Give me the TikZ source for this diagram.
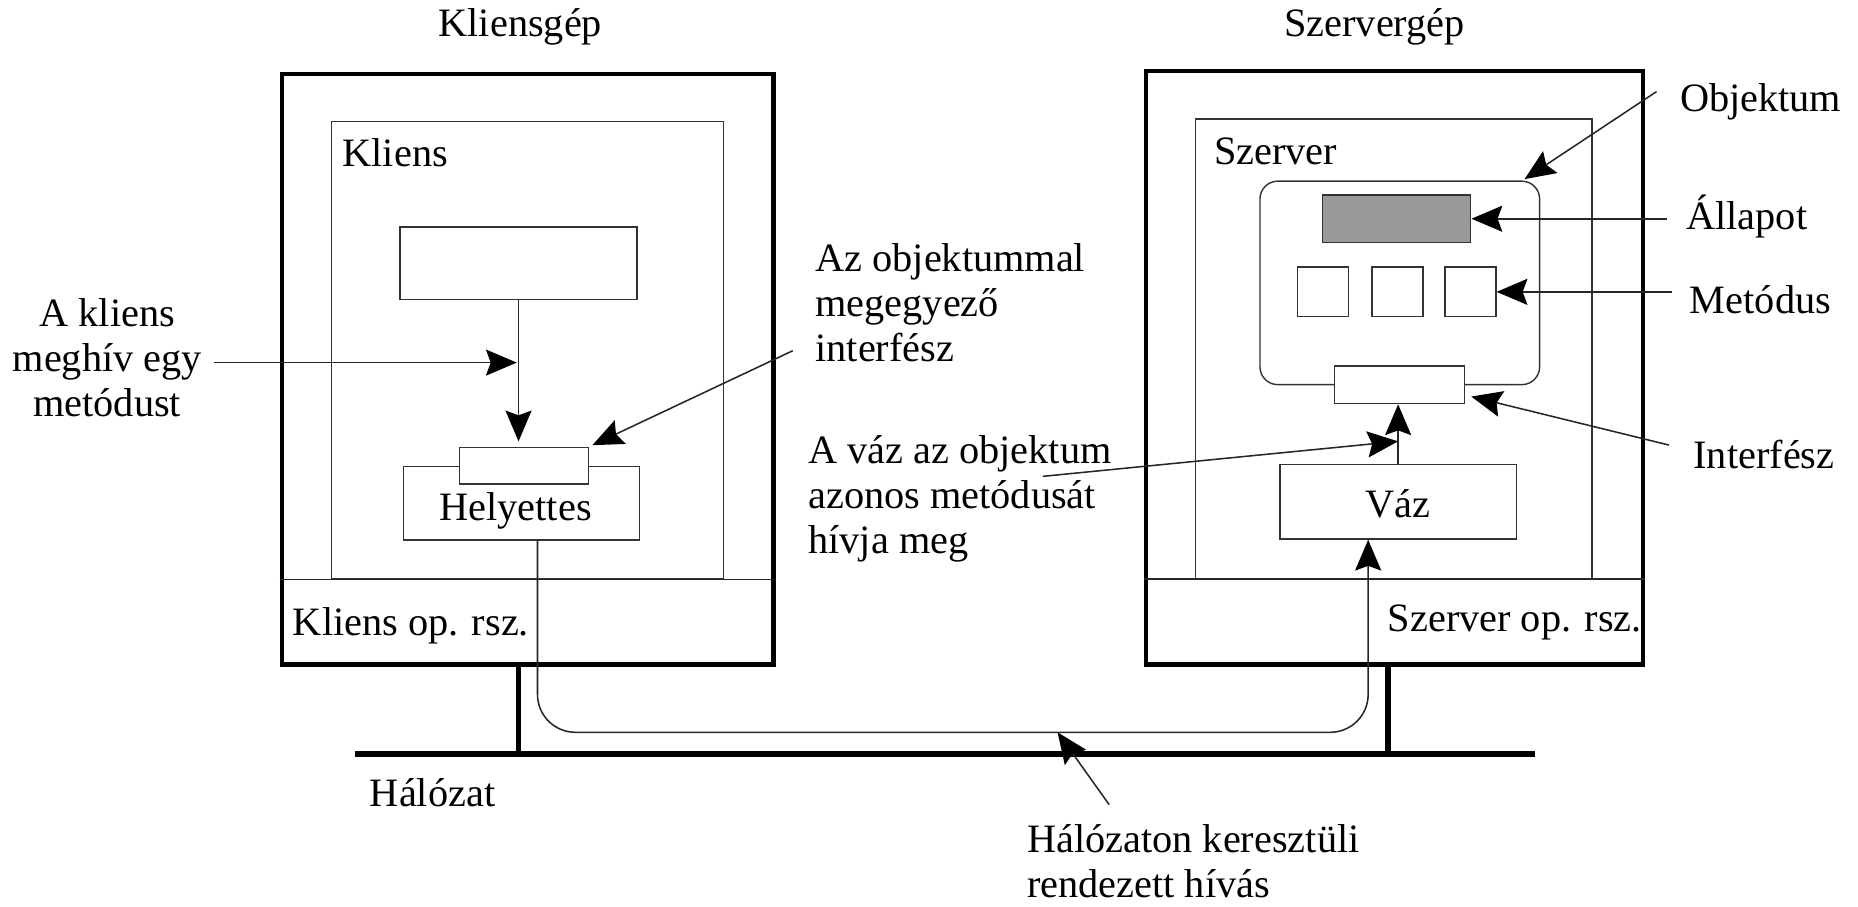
\documentclass[tikz,border=0pt]{standalone}
\usepackage{fontspec}
\setmainfont{Liberation Serif}
\usetikzlibrary{arrows.meta,calc}
\begin{document}
\begin{tikzpicture}[x=1pt,y=-1pt,
  every node/.style={font=\fontsize{34pt}{38pt}\selectfont, inner sep=0pt},
  machine/.style={draw=black, line width=3.5pt, anchor=north west},
  proc/.style={draw=black!80, line width=1.2pt, anchor=north west},
  part/.style={draw=black!80, line width=1.2pt, fill=white, anchor=north west},
  conn/.style={draw=black!85, line width=1.3pt},
  arr/.style={-{Stealth[length=26pt,width=22pt,inset=4pt,color=black]}},
  lbl/.style={anchor=base west},
  note/.style={align=left, anchor=base west}
]
\useasboundingbox (0,0) rectangle (1568,765);

% machine titles
\node[lbl] (ctitle) at (370,31) {Kliensgép};
\node[lbl] (stitle) at (1083.6,31) {Szervergép};

% processes (drawn first, machines on top)
\node[proc, minimum width=331pt, minimum height=386pt] (cp) at (279,102) {};
\node[proc, minimum width=334.5pt, minimum height=387.5pt] (sp) at (1008.5,100) {};

% machines
\node[machine, minimum width=415pt, minimum height=498pt] (cm) at (236,61) {};
\node[machine, minimum width=419pt, minimum height=501pt] (sm) at (965.5,58) {};

% operating system strips
\draw[conn] (cm.west |- cp.south) -- (cm.east |- cp.south);
\draw[conn] (sm.west |- sp.south) -- (sm.east |- sp.south);

\node[lbl] (cpl) at (289,140.7) {Kliens};
\node[lbl] (spl) at (1024.5,139) {Szerver};
\node[lbl] (cos) at (247,536) {Kliens op. rsz.};
\node[lbl] (sos) at (1171,532.6) {Szerver op. rsz.};

% client side
\node[part, minimum width=200pt, minimum height=61pt] (caller) at (337,191) {};
\node[part, minimum width=199pt, minimum height=62pt] (stub) at (340,393) {};
\node[part, minimum width=109pt, minimum height=31pt] (cifc) at (387,377) {};
\node[anchor=base] (stubl) at ([xshift=-5pt,yshift=-15pt]stub.center) {Helyettes};

% server side
\node[part, rounded corners=15pt, minimum width=236pt, minimum height=171.7pt] (obj) at (1062.7,152.3) {};
\node[part, fill=black!40, minimum width=125pt, minimum height=40pt] (state) at (1115.6,164) {};
\node[part, minimum width=43pt, minimum height=42pt] (m1) at (1094.5,224.7) {};
\node[part, minimum width=43pt, minimum height=42pt] (m2) at (1157.3,224.7) {};
\node[part, minimum width=43pt, minimum height=42pt] (m3) at (1218.8,224.7) {};
\node[part, minimum width=110pt, minimum height=31.6pt] (sifc) at (1125.4,308.4) {};
\node[part, minimum width=199.4pt, minimum height=62.7pt] (skel) at (1079.6,391.6) {};
\node[anchor=base] (skell) at ([yshift=-13pt]skel.center) {Váz};

% network
\coordinate (netL) at (300,636);
\coordinate (netR) at (1295,636);
\draw[line width=5pt] (netL) -- (netR);
\coordinate (ctap) at ([xshift=-7.5pt]cm.south);
\coordinate (stap) at ([xshift=-5.5pt]sm.south);
\draw[line width=4.5pt] (ctap) -- (ctap |- netL);
\draw[line width=4.5pt] (stap) -- (stap |- netL);
\node[lbl] (lblnetw) at (312,680.7) {Hálózat};

% marshalled call through the network
\coordinate (sendpt) at ([xshift=13.5pt]stub.south);
\coordinate (recvpt) at ([xshift=-25.3pt]skel.south);
\coordinate (wire) at (892.5,618);
\draw[conn, arr, rounded corners=32pt] (sendpt) |- (wire) -| (recvpt);

% local calls
\draw[conn, arr, shorten >=4.5pt] (caller.south) -- (caller.south |- cifc.north);
\draw[conn, arr] (skel.north) -- (skel.north |- sifc.south);

% annotations, left (multi-line nodes sit on their last baseline)
\node[align=center, anchor=base, inner xsep=10pt] (lblcall) at (90.5,351.6) {A kliens\\meghív egy\\metódust};
\coordinate (callhit) at (caller.south |- 0,306);
\draw[conn, arr, shorten >=1.5pt] (lblcall.east |- callhit) -- (callhit);

\node[note] (lblifc) at (688,305) {Az objektummal\\megegyező\\interfész};
\coordinate (ifcsrc) at (669,296);
\draw[conn, arr, shorten >=3pt] (ifcsrc) -- (cifc.north east);

\node[note] (lblskel) at (682,467) {A váz az objektum\\azonos metódusát\\hívja meg};
\coordinate (skelsrc) at (880,402);
\coordinate (skelhit) at ($(skel.north)!0.38!(skel.north |- sifc.south)$);
\draw[conn, arr] (skelsrc) -- (skelhit);

\node[note] (lblmarsh) at (866.7,757.8) {Hálózaton keresztüli\\rendezett hívás};
\coordinate (marshsrc) at (936,679);
\draw[conn, arr] (marshsrc) -- (wire);

% annotations, right
\node[lbl] (lblobj) at (1417.7,94.3) {Objektum};
\coordinate (objsrc) at (1398,77.3);
\draw[conn, arr, shorten >=2pt] (objsrc) -- ([xshift=-15pt]obj.north east);

\node[lbl] (lblstate) at (1423,194) {Állapot};
\coordinate (statesrc) at (1407,0);
\draw[conn, arr] (statesrc |- state.east) -- (state.east);

\node[lbl] (lblmeth) at (1426,264.4) {Metódus};
\coordinate (methsrc) at (1411,0);
\draw[conn, arr] (methsrc |- m3.east) -- (m3.east);

\node[lbl] (lblsifc) at (1429,395.2) {Interfész};
\coordinate (sifcsrc) at (1408.5,375.6);
\coordinate (sifchit) at ([xshift=5pt]$(sifc.east)!0.6!(sifc.south east)$);
\draw[conn, arr] (sifcsrc) -- (sifchit);
\end{tikzpicture}
\end{document}
